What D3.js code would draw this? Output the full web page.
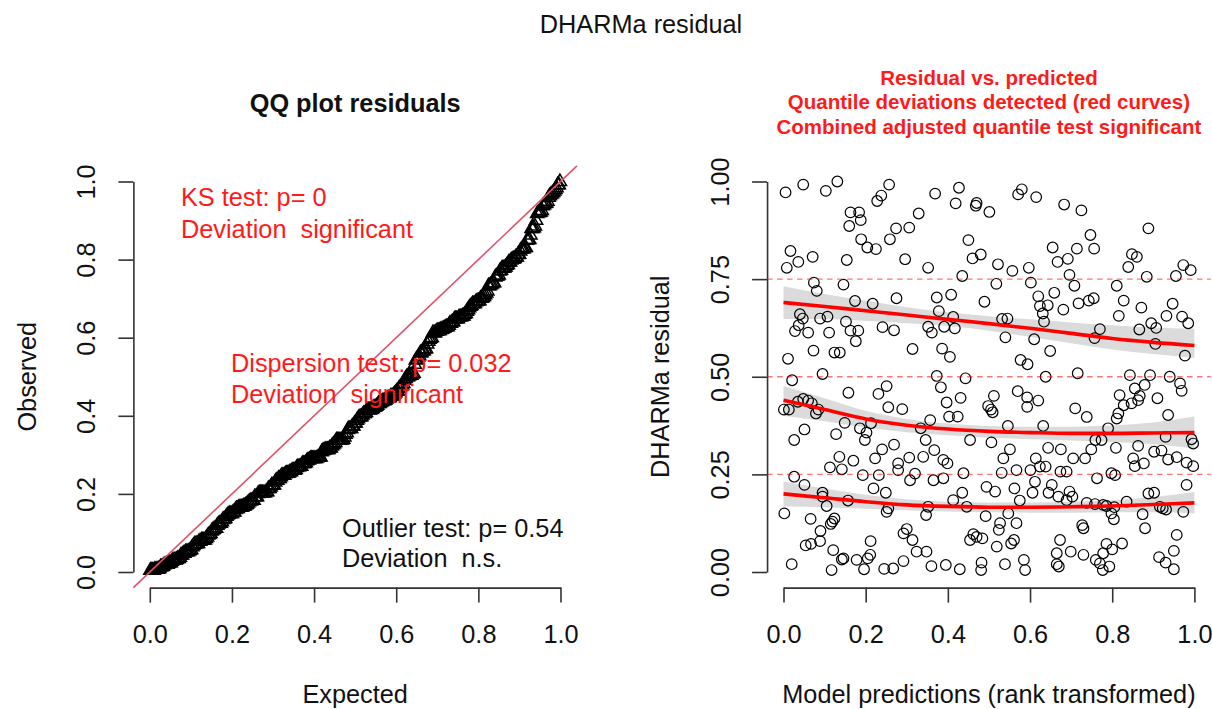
<!DOCTYPE html>
<html><head><meta charset="utf-8">
<script src="https://cdn.jsdelivr.net/npm/d3@7"></script>
<style>
html,body{margin:0;padding:0;background:#fff;}
svg{display:block;font-family:"Liberation Sans",Arial,Helvetica,sans-serif;}
</style></head><body>
<svg id="chart" width="1212" height="709"></svg>
<script>
// ---------------- DATA ----------------
const pageTitle = "DHARMa residual";
const qqTitle = "QQ plot residuals";
const rvpTitle = ["Residual vs. predicted", "Quantile deviations detected (red curves)", "Combined adjusted quantile test significant"];
const qqXLabel = "Expected", qqYLabel = "Observed";
const rvpXLabel = "Model predictions (rank transformed)", rvpYLabel = "DHARMa residual";
const qqTicks = [0, 0.2, 0.4, 0.6, 0.8, 1.0];
const rvpXTicks = [0, 0.2, 0.4, 0.6, 0.8, 1.0];
const rvpYTicks = [0, 0.25, 0.5, 0.75, 1.0];
const ksText = ["KS test: p= 0", "Deviation  significant"];
const dispText = ["Dispersion test: p= 0.032", "Deviation  significant"];
const outlierText = ["Outlier test: p= 0.54", "Deviation  n.s."];
const refLines = [0.25, 0.5, 0.75];

// quantile regression curves
const quantX = [0, 0.1, 0.2, 0.3, 0.4, 0.5, 0.6, 0.7, 0.8, 0.9, 1.0];
const q25   = [0.200, 0.190, 0.180, 0.172, 0.168, 0.166, 0.166, 0.167, 0.169, 0.173, 0.177];
const q25hi = [0.232, 0.214, 0.198, 0.186, 0.180, 0.178, 0.178, 0.180, 0.184, 0.192, 0.205];
const q25lo = [0.168, 0.166, 0.162, 0.158, 0.155, 0.153, 0.152, 0.152, 0.153, 0.153, 0.150];
const q50   = [0.440, 0.416, 0.392, 0.376, 0.366, 0.360, 0.357, 0.355, 0.355, 0.356, 0.357];
const q50hi = [0.476, 0.445, 0.413, 0.392, 0.380, 0.374, 0.372, 0.372, 0.375, 0.383, 0.398];
const q50lo = [0.400, 0.386, 0.370, 0.358, 0.350, 0.344, 0.340, 0.337, 0.333, 0.327, 0.316];
const q75   = [0.690, 0.680, 0.669, 0.658, 0.647, 0.636, 0.624, 0.611, 0.598, 0.588, 0.580];
const q75hi = [0.732, 0.712, 0.695, 0.678, 0.665, 0.655, 0.647, 0.639, 0.632, 0.626, 0.623];
const q75lo = [0.648, 0.648, 0.643, 0.637, 0.630, 0.618, 0.602, 0.586, 0.570, 0.558, 0.548];

// scaled residuals: [rank-transformed prediction, residual]
const scatterPoints = [
[0.005,0.972],[0.048,0.992],[0.103,0.976],[0.131,1.000],[0.163,0.921],[0.184,0.921],[0.188,0.901],[0.160,0.886],[0.189,0.852],[0.204,0.831],
[0.225,0.827],[0.228,0.950],[0.238,0.964],[0.257,0.992],[0.274,0.880],[0.259,0.852],[0.306,0.882],[0.329,0.918],[0.296,0.801],[0.154,0.799],
[0.071,0.807],[0.017,0.822],[0.036,0.794],[0.008,0.779],[0.074,0.741],[0.081,0.720],[0.146,0.736],[0.174,0.694],[0.217,0.687],[0.275,0.701],
[0.040,0.660],[0.047,0.649],[0.037,0.632],[0.028,0.617],[0.060,0.613],[0.089,0.649],[0.107,0.654],[0.111,0.613],[0.152,0.641],[0.163,0.618],
[0.182,0.618],[0.176,0.591],[0.241,0.627],[0.269,0.619],[0.314,0.571],[0.073,0.567],[0.124,0.562],[0.137,0.562],[0.011,0.546],
[0.369,0.969],[0.427,0.984],[0.419,0.944],[0.470,0.945],[0.468,0.938],[0.501,0.922],[0.450,0.850],[0.460,0.803],[0.480,0.813],[0.522,0.788],
[0.557,0.771],[0.597,0.779],[0.580,0.980],[0.571,0.967],[0.615,0.960],[0.683,0.941],[0.725,0.926],[0.747,0.863],[0.655,0.831],[0.714,0.828],
[0.756,0.828],[0.667,0.794],[0.692,0.802],[0.696,0.761],[0.708,0.733],[0.352,0.779],[0.435,0.758],[0.518,0.738],[0.602,0.741],[0.659,0.715],
[0.620,0.706],[0.624,0.681],[0.643,0.683],[0.631,0.662],[0.634,0.641],[0.681,0.672],[0.718,0.688],[0.743,0.695],[0.755,0.701],[0.811,0.733],
[0.828,0.695],[0.871,0.677],[0.816,0.656],[0.888,0.880],[0.848,0.814],[0.860,0.807],[0.839,0.781],[0.884,0.756],[0.955,0.758],[0.973,0.786],
[0.991,0.773],[0.947,0.687],[0.932,0.656],[0.970,0.654],[0.985,0.637],[0.895,0.637],[0.907,0.625],[0.866,0.621],[0.770,0.622],[0.757,0.599],
[0.905,0.584],[0.977,0.554],[0.649,0.566],[0.610,0.596],[0.540,0.601],[0.532,0.648],[0.545,0.649],[0.489,0.692],[0.408,0.710],[0.373,0.703],
[0.378,0.668],[0.413,0.653],[0.417,0.624],[0.391,0.628],[0.361,0.613],[0.352,0.628],[0.386,0.572],[0.405,0.551],[0.577,0.543],[0.594,0.532],
[0.095,0.507],[0.021,0.491],[0.158,0.459],[0.231,0.456],[0.251,0.476],[0.255,0.422],[0.289,0.417],[0.001,0.416],[0.013,0.416],[0.035,0.436],
[0.048,0.443],[0.060,0.439],[0.069,0.432],[0.079,0.406],[0.085,0.416],[0.149,0.382],[0.186,0.368],[0.202,0.357],[0.198,0.338],[0.213,0.381],
[0.128,0.353],[0.051,0.365],[0.026,0.338],[0.136,0.295],[0.113,0.268],[0.142,0.263],[0.170,0.285],[0.193,0.248],[0.232,0.248],[0.223,0.291],
[0.240,0.314],[0.269,0.326],[0.279,0.278],[0.279,0.261],[0.320,0.252],[0.308,0.235],[0.026,0.244],[0.051,0.223],[0.095,0.203],[0.095,0.193],
[0.105,0.169],[0.157,0.183],[0.219,0.214],[0.249,0.203],[0.255,0.163],[0.251,0.154],[0.002,0.150],[0.066,0.136],[0.090,0.105],[0.119,0.129],
[0.115,0.123],[0.124,0.137],[0.089,0.079],[0.054,0.068],[0.067,0.072],[0.121,0.056],[0.142,0.032],[0.146,0.035],[0.178,0.031],[0.205,0.035],
[0.211,0.044],[0.196,0.007],[0.212,0.079],[0.245,0.008],[0.267,0.009],[0.292,0.028],[0.117,0.005],[0.020,0.020],[0.292,0.099],[0.300,0.110],
[0.314,0.082],[0.324,0.052],[0.306,0.293],[0.334,0.368],
[0.373,0.502],[0.443,0.496],[0.383,0.473],[0.638,0.500],[0.716,0.509],[0.843,0.504],[0.892,0.504],[0.940,0.500],[0.965,0.483],[0.969,0.464],
[0.397,0.434],[0.431,0.446],[0.403,0.398],[0.424,0.398],[0.357,0.389],[0.498,0.425],[0.505,0.416],[0.512,0.451],[0.509,0.409],[0.570,0.463],
[0.593,0.447],[0.620,0.439],[0.593,0.423],[0.710,0.419],[0.738,0.397],[0.818,0.453],[0.828,0.427],[0.847,0.432],[0.855,0.470],[0.867,0.451],
[0.863,0.440],[0.879,0.479],[0.910,0.445],[0.936,0.402],[0.815,0.406],[0.811,0.393],[0.546,0.374],[0.632,0.374],[0.790,0.368],[0.759,0.338],
[0.774,0.338],[0.930,0.346],[0.993,0.340],[0.997,0.329],[0.346,0.338],[0.367,0.312],[0.454,0.338],[0.506,0.332],[0.551,0.314],[0.535,0.291],
[0.644,0.318],[0.675,0.314],[0.705,0.291],[0.734,0.291],[0.749,0.314],[0.809,0.318],[0.863,0.323],[0.902,0.308],[0.920,0.311],[0.851,0.291],
[0.855,0.271],[0.877,0.278],[0.936,0.288],[0.957,0.294],[0.981,0.280],[0.997,0.271],[0.389,0.287],[0.399,0.278],[0.340,0.295],[0.438,0.253],
[0.531,0.254],[0.567,0.261],[0.601,0.261],[0.614,0.291],[0.624,0.270],[0.638,0.270],[0.674,0.257],[0.689,0.257],[0.763,0.240],[0.798,0.253],
[0.807,0.248],[0.981,0.223],[0.365,0.235],[0.389,0.240],[0.494,0.218],[0.515,0.206],[0.612,0.231],[0.606,0.203],[0.562,0.214],[0.575,0.183],
[0.653,0.223],[0.645,0.203],[0.669,0.193],[0.696,0.206],[0.703,0.193],[0.689,0.184],[0.738,0.177],[0.758,0.174],[0.778,0.172],[0.786,0.169],
[0.805,0.166],[0.835,0.180],[0.888,0.201],[0.902,0.203],[0.916,0.167],[0.923,0.163],[0.931,0.160],[0.874,0.148],[0.973,0.154],[0.413,0.184],
[0.435,0.203],[0.446,0.167],[0.492,0.143],[0.547,0.150],[0.567,0.125],[0.527,0.125],[0.524,0.108],[0.561,0.082],[0.554,0.073],[0.462,0.097],
[0.454,0.082],[0.470,0.090],[0.519,0.065],[0.484,0.086],[0.798,0.150],[0.804,0.135],[0.727,0.120],[0.730,0.112],[0.673,0.082],[0.824,0.073],
[0.786,0.072],[0.800,0.058],[0.880,0.112],[0.957,0.095],[0.950,0.054],[0.914,0.038],[0.930,0.024],[0.950,0.007],[0.778,0.048],[0.760,0.031],
[0.770,0.022],[0.777,0.005],[0.793,0.014],[0.699,0.052],[0.730,0.044],[0.665,0.048],[0.665,0.020],[0.670,0.014],[0.585,0.031],[0.588,0.005],
[0.539,0.020],[0.482,0.024],[0.481,0.005],[0.429,0.007],[0.395,0.018],[0.360,0.015],[0.348,0.052],[0.347,0.146],[0.352,0.167]
];

// ---------------- DRAWING ----------------
const svg = d3.select("#chart");
const FS = 25.3;
const FONT = '"Liberation Sans",Arial,Helvetica,sans-serif';
const AX = "#333";

const yS = d3.scaleLinear().domain([0, 1]).range([572, 181.5]);
const xQ = d3.scaleLinear().domain([0, 1]).range([149.8, 560.5]);
const xR = d3.scaleLinear().domain([0, 1]).range([783.5, 1194.4]);
const axisYpos = yS(-0.04);

function styleAxis(g) {
  g.select(".domain").attr("stroke", AX).attr("stroke-width", 1.6);
  g.selectAll(".tick line").attr("stroke", AX).attr("stroke-width", 1.6);
  g.selectAll("text").attr("font-size", FS).attr("font-family", FONT).attr("fill", "#111");
}
function xAxis(scale, ticks, fmt) {
  const g = svg.append("g").attr("transform", `translate(0,${axisYpos})`)
    .call(d3.axisBottom(scale).tickValues(ticks).tickFormat(fmt).tickSize(15).tickSizeOuter(0).tickPadding(22));
  styleAxis(g);
}
function yAxis(xScale, ticks, fmt) {
  const g = svg.append("g").attr("transform", `translate(${xScale(-0.04)},0)`)
    .call(d3.axisLeft(yS).tickValues(ticks).tickFormat(fmt).tickSize(15).tickSizeOuter(0));
  styleAxis(g);
  g.selectAll(".tick text").attr("x", 0).attr("dy", 0).attr("y", -(47 - 0.36 * FS))
    .attr("text-anchor", "middle").attr("transform", "rotate(-90)");
}
function text(x, y, s, opts = {}) {
  return svg.append("text").attr("x", x).attr("y", y).text(s)
    .attr("font-size", opts.size || FS).attr("font-family", FONT)
    .attr("font-weight", opts.bold ? "bold" : "normal")
    .attr("fill", opts.color || "#111")
    .attr("text-anchor", opts.anchor || "start")
    .style("white-space", "pre");
}
function rotText(xcc, yc, s) {
  svg.append("text").attr("transform", `translate(${xcc + 0.36 * FS},${yc}) rotate(-90)`)
    .attr("text-anchor", "middle").attr("font-size", FS).attr("font-family", FONT)
    .attr("fill", "#111").text(s);
}

// page title
text(641, 33, pageTitle, {anchor: "middle"});

// ---------- QQ panel ----------
const fmt1 = d3.format(".1f");
xAxis(xQ, qqTicks, fmt1);
yAxis(xQ, qqTicks, fmt1);
text((xQ(-0.04) + xQ(1.04)) / 2, 111.7, qqTitle, {anchor: "middle", bold: true});
text((xQ(-0.04) + xQ(1.04)) / 2, 703, qqXLabel, {anchor: "middle"});
rotText(26.5, yS(0.5), qqYLabel);

const observed = scatterPoints.map(p => p[1]).sort(d3.ascending);
const nObs = observed.length;
const qqData = observed.map((v, i) => [(i + 0.5) / nObs, v]);
const tri = "M0,-7.4 L6.6,4.1 L-6.6,4.1 Z";
svg.append("g").selectAll("path").data(qqData).join("path")
  .attr("d", tri).attr("transform", d => `translate(${xQ(d[0])},${yS(d[1])})`)
  .attr("fill", "none").attr("stroke", "#000").attr("stroke-width", 1.5);

svg.append("line")
  .attr("x1", xQ(-0.04)).attr("y1", yS(-0.04)).attr("x2", xQ(1.04)).attr("y2", yS(1.04))
  .attr("stroke", "#DF536B").attr("stroke-width", 1.6);

text(181, 206, ksText[0], {color: "#ff1a1a"});
text(181, 238, ksText[1], {color: "#ff1a1a"});
text(231, 372, dispText[0], {color: "#ff1a1a"});
text(231, 403, dispText[1], {color: "#ff1a1a"});
text(342, 537, outlierText[0]);
text(342, 567, outlierText[1]);

// ---------- Residual vs predicted panel ----------
xAxis(xR, rvpXTicks, fmt1);
yAxis(xR, rvpYTicks, d3.format(".2f"));
const rvpCx = (xR(-0.04) + xR(1.04)) / 2;
rvpTitle.forEach((t, i) => text(rvpCx, 84.5 + i * 24.5, t, {anchor: "middle", bold: true, color: "#ff1a1a", size: 20.5}));
text(rvpCx, 703, rvpXLabel, {anchor: "middle"});
rotText(660, yS(0.5), rvpYLabel);

svg.append("g").selectAll("circle").data(scatterPoints).join("circle")
  .attr("cx", d => xR(d[0])).attr("cy", d => yS(d[1])).attr("r", 5.3)
  .attr("fill", "none").attr("stroke", "#000").attr("stroke-width", 1.2);

svg.append("g").selectAll("line").data(refLines).join("line")
  .attr("x1", xR(-0.04)).attr("x2", xR(1.04)).attr("y1", d => yS(d)).attr("y2", d => yS(d))
  .attr("stroke", "rgba(255,0,0,0.55)").attr("stroke-width", 1.3).attr("stroke-dasharray", "5.5,4.5");

const bands = [[q25lo, q25hi, q25], [q50lo, q50hi, q50], [q75lo, q75hi, q75]];
const area = d3.area().curve(d3.curveMonotoneX).x(d => xR(d.x)).y0(d => yS(d.lo)).y1(d => yS(d.hi));
const line = d3.line().curve(d3.curveMonotoneX).x(d => xR(d.x)).y(d => yS(d.q));
bands.forEach(([lo, hi, q]) => {
  const rows = quantX.map((x, i) => ({x, lo: lo[i], hi: hi[i], q: q[i]}));
  svg.append("path").attr("d", area(rows)).attr("fill", "#000").attr("fill-opacity", 0.14);
  svg.append("path").attr("d", line(rows)).attr("fill", "none").attr("stroke", "#ff0000").attr("stroke-width", 3.6);
});
</script>
</body></html>
